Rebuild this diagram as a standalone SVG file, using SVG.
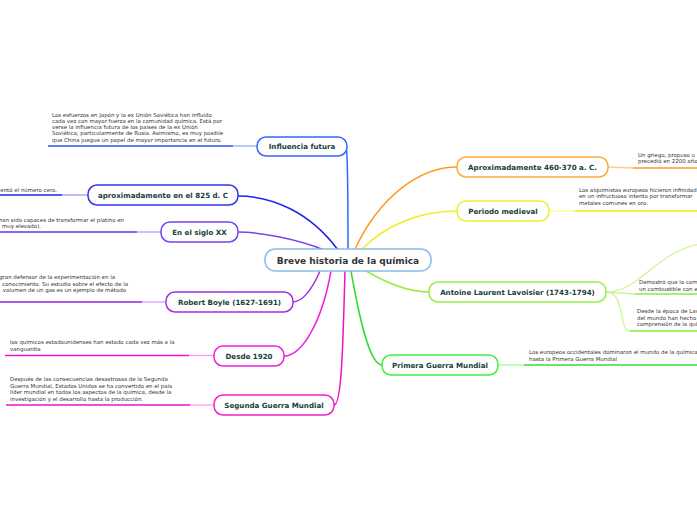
<svg xmlns="http://www.w3.org/2000/svg" width="697" height="520" viewBox="0 0 697 520">
<style>
.bg{fill:#ffffff}
.node{fill:#ffffff;stroke-width:1.5}
.lbl{font-family:"DejaVu Sans",Verdana,sans-serif;font-weight:bold;font-size:7.1px;fill:#17403a;text-anchor:middle}
.root{font-family:"DejaVu Sans",Verdana,sans-serif;font-weight:bold;font-size:9px;fill:#333333;text-anchor:middle}
.txt{font-family:"DejaVu Sans",Verdana,sans-serif;font-size:5.45px;fill:#333333}
.end{text-anchor:end}
.c{fill:none;stroke-width:1.5}
.u{fill:none;stroke-width:1.6}
.l{fill:none;stroke-width:1.3}
</style>
<rect class="bg" x="0" y="0" width="697" height="520"/>
<g id="connectors">
  <path class="c" stroke="#3366ff" d="M348,250 C348,200 348,152 346,146"/>
  <path class="c" stroke="#2222ee" d="M338,250 C310,212 272,196 238,196"/>
  <path class="c" stroke="#7744ee" d="M324,250 C300,240 262,232 238,232"/>
  <path class="c" stroke="#a030e0" d="M320,271 C312,290 302,302 293,302"/>
  <path class="c" stroke="#ee22dd" d="M331,271 C322,322 302,356 284,356"/>
  <path class="c" stroke="#ee11cc" d="M345,271 C343,340 342,405 334,405"/>
  <path class="c" stroke="#ff9922" d="M355,249 C380,196 420,167 457,167"/>
  <path class="c" stroke="#eeee22" d="M362,249 C386,225 420,211 457,211"/>
  <path class="c" stroke="#99ee44" d="M366,271 C390,285 410,292 429,292"/>
  <path class="c" stroke="#33dd33" d="M351,271 C360,322 370,365 382,365"/>
  <path class="l" stroke="#99aaff" d="M257,146 L233,146"/>
  <path class="l" stroke="#9999ff" d="M88,195 L62,195"/>
  <path class="l" stroke="#bb99ff" d="M161,232 L137,232"/>
  <path class="l" stroke="#dd99ff" d="M166,302 L142,302"/>
  <path class="l" stroke="#ff99ee" d="M214,355.5 L189,355.5"/>
  <path class="l" stroke="#ff99ee" d="M214,405 L190,405"/>
  <path class="l" stroke="#ffcc88" d="M608,167 L633,168"/>
  <path class="l" stroke="#ffff88" d="M549,211 L575,211"/>
  <path class="l" stroke="#ccf599" d="M606,292 L635,294"/>
  <path class="l" stroke="#ccf599" d="M606,292 C640,292 655,252 700,244"/>
  <path class="l" stroke="#ccf599" d="M606,292 C626,292 618,331 630,331"/>
  <path class="l" stroke="#99ff99" d="M498,365 L524,365"/>
  <path class="u" stroke="#3355ee" d="M48,146 L233,146"/>
  <path class="u" stroke="#2222ee" d="M0,195 L62,195"/>
  <path class="u" stroke="#6633ee" d="M0,232 L137,232"/>
  <path class="u" stroke="#9922dd" d="M0,302 L142,302"/>
  <path class="u" stroke="#ee11dd" d="M5,355.5 L189,355.5"/>
  <path class="u" stroke="#ee11cc" d="M6,405 L190,405"/>
  <path class="u" stroke="#ff9922" d="M633,168 L697,168"/>
  <path class="u" stroke="#eeee00" d="M575,211 L697,211"/>
  <path class="u" stroke="#88ee33" d="M635,294 L697,294"/>
  <path class="u" stroke="#88ee33" d="M630,331 L697,331"/>
  <path class="u" stroke="#33dd33" d="M524,365 L697,365"/>
</g>
<g id="root">
  <rect class="node" stroke="#88bbe8" stroke-width="2" x="265" y="249" width="166" height="22" rx="10"/>
  <text class="root" x="348" y="263.5">Breve historia de la química</text>
</g>
<g id="n-influencia">
  <rect class="node" stroke="#3366ff" x="257" y="137" width="90" height="19" rx="9"/>
  <text class="lbl" x="302" y="149">Influencia futura</text>
</g>
<g id="t-influencia">
  <text class="txt" x="52" y="117">Los esfuerzos en Japón y la ex Unión Soviética han influido</text>
  <text class="txt" x="52" y="123">cada vez con mayor fuerza en la comunidad química. Está por</text>
  <text class="txt" x="52" y="129">verse la influencia futura de los países de la ex Unión</text>
  <text class="txt" x="52" y="135">Soviética, particularmente de Rusia. Asimismo, es muy posible</text>
  <text class="txt" x="52" y="141.5">que China juegue un papel de mayor importancia en el futuro.</text>
</g>
<g id="n-825">
  <rect class="node" stroke="#3333ee" x="88" y="185" width="150" height="20" rx="9"/>
  <text class="lbl" x="163" y="197.5">aproximadamente en el 825 d. C</text>
</g>
<g id="t-825">
  <text class="txt end" x="57" y="191.5">entó el número cero.</text>
</g>
<g id="n-sigloxx">
  <rect class="node" stroke="#7744ee" x="161" y="222" width="77" height="20" rx="9"/>
  <text class="lbl" x="199.5" y="234.5">En el siglo XX</text>
</g>
<g id="t-sigloxx">
  <text class="txt end" x="124" y="221.5">han sido capaces de transformar el platino en</text>
  <text class="txt end" x="41" y="227.5">muy elevado).</text>
</g>
<g id="n-boyle">
  <rect class="node" stroke="#a030e0" x="166" y="292" width="127" height="20" rx="9"/>
  <text class="lbl" x="229.5" y="304.5">Robert Boyle (1627-1691)</text>
</g>
<g id="t-boyle">
  <text class="txt end" x="115" y="279">gran defensor de la experimentación en la</text>
  <text class="txt end" x="128" y="285.5">conocimiento. Su estudio sobre el efecto de la</text>
  <text class="txt end" x="126" y="292">volumen de un gas es un ejemplo de método</text>
</g>
<g id="n-1920">
  <rect class="node" stroke="#ee22dd" x="214" y="346" width="70" height="20" rx="9"/>
  <text class="lbl" x="249" y="358.5">Desde 1920</text>
</g>
<g id="t-1920">
  <text class="txt" x="10" y="344">los químicos estadounidenses han estado cada vez más a la</text>
  <text class="txt" x="10" y="351">vanguardia</text>
</g>
<g id="n-segunda">
  <rect class="node" stroke="#ee22cc" x="214" y="395" width="120" height="20" rx="9"/>
  <text class="lbl" x="274" y="407.5">Segunda Guerra Mundial</text>
</g>
<g id="t-segunda">
  <text class="txt" x="10" y="381">Después de las consecuencias desastrosas de la Segunda</text>
  <text class="txt" x="10" y="387.5">Guerra Mundial, Estados Unidos se ha convertido en el país</text>
  <text class="txt" x="10" y="394">líder mundial en todos los aspectos de la química, desde la</text>
  <text class="txt" x="10" y="400.5">investigación y el desarrollo hasta la producción.</text>
</g>
<g id="n-460">
  <rect class="node" stroke="#ffaa33" x="457" y="157" width="151" height="20" rx="9"/>
  <text class="lbl" x="532.5" y="169.5">Aproximadamente 460-370 a. C.</text>
</g>
<g id="t-460">
  <text class="txt" x="638" y="157">Un griego, propuso u</text>
  <text class="txt" x="638" y="163">precedió en 2200 año</text>
</g>
<g id="n-medieval">
  <rect class="node" stroke="#eeee33" x="457" y="201" width="92" height="20" rx="9"/>
  <text class="lbl" x="503" y="213.5">Periodo medieval</text>
</g>
<g id="t-medieval">
  <text class="txt" x="579" y="192">Los alquimistas europeos hicieron infinidad</text>
  <text class="txt" x="579" y="198">en un infructuoso intento por transformar</text>
  <text class="txt" x="579" y="204.5">metales comunes en oro.</text>
</g>
<g id="n-lavoisier">
  <rect class="node" stroke="#99ee44" x="429" y="282" width="177" height="20" rx="9"/>
  <text class="lbl" x="517.5" y="294.5">Antoine Laurent Lavoisier (1743-1794)</text>
</g>
<g id="t-lavoisier1">
  <text class="txt" x="639" y="284">Demostró que la com</text>
  <text class="txt" x="639" y="290.5">un combustible con e</text>
</g>
<g id="t-lavoisier2">
  <text class="txt" x="637" y="313">Desde la época de Lav</text>
  <text class="txt" x="637" y="319.5">del mundo han hecho</text>
  <text class="txt" x="637" y="326">comprensión de la quí</text>
</g>
<g id="n-primera">
  <rect class="node" stroke="#44ee44" x="382" y="355" width="116" height="20" rx="9"/>
  <text class="lbl" x="440" y="367.5">Primera Guerra Mundial</text>
</g>
<g id="t-primera">
  <text class="txt" x="529" y="354">Los europeos occidentales dominaron el mundo de la química</text>
  <text class="txt" x="529" y="360.5">hasta la Primera Guerra Mundial</text>
</g>
</svg>
